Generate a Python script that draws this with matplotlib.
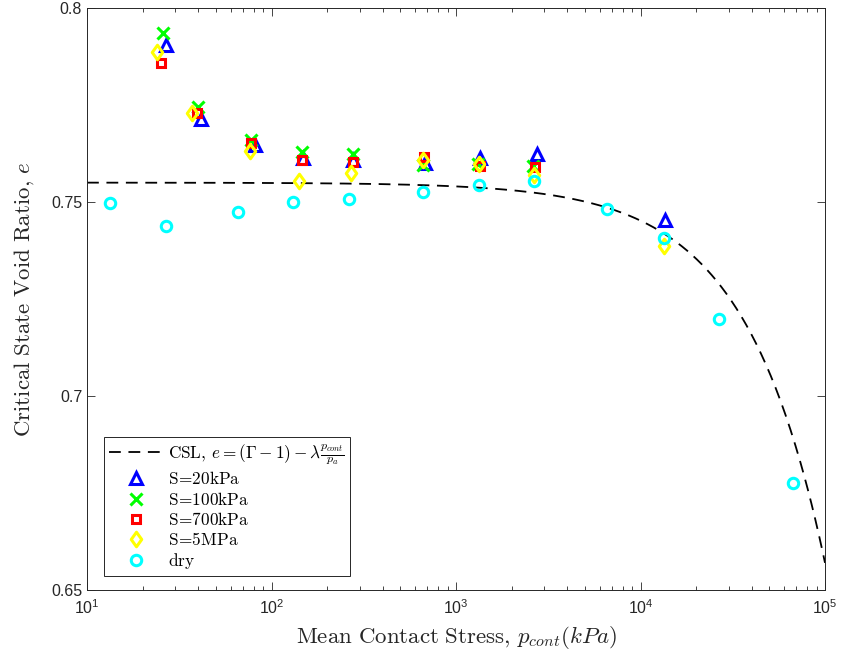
import numpy as np
import matplotlib
matplotlib.use("Agg")
import matplotlib.pyplot as plt
from matplotlib.font_manager import FontProperties
from matplotlib.path import Path
from matplotlib.ticker import LogLocator, FixedLocator, NullFormatter

plt.rcParams["font.family"] = ["Liberation Sans", "DejaVu Sans"]
plt.rcParams["mathtext.fontset"] = "custom"
plt.rcParams["mathtext.rm"] = "Liberation Sans"
plt.rcParams["mathtext.it"] = "Liberation Sans:italic"
plt.rcParams["lines.scale_dashes"] = False

# Critical state line parameters
gamma_csl = 1.755
lambda_csl = 9.8e-5
p_atm = 100.0

# Suction S = 20 kPa
p_s20 = [26.8, 41.3, 81.4, 148.7, 277.6, 679, 1349, 2737, 13575]
e_s20 = [0.7905, 0.7713, 0.7647, 0.7613, 0.7608, 0.7601, 0.7613, 0.7624, 0.7454]

# Suction S = 100 kPa
p_s100 = [25.9, 40.1, 77.1, 145.8, 275.5, 665, 1316, 2604]
e_s100 = [0.7936, 0.7744, 0.7660, 0.7630, 0.7624, 0.7595, 0.7598, 0.7593]

# Suction S = 700 kPa
p_s700 = [25.1, 39.3, 77.1, 145.8, 275.5, 671, 1349, 2681]
e_s700 = [0.7859, 0.7730, 0.7651, 0.7607, 0.7604, 0.7617, 0.7593, 0.7591]

# Suction S = 5 MPa
p_s5m = [24.0, 36.9, 76.5, 141.5, 269.8, 660, 1333, 2648, 13460]
e_s5m = [0.7887, 0.7729, 0.7631, 0.7555, 0.7574, 0.7607, 0.7598, 0.7570, 0.7387]

# Dry specimens
p_dry = [13.3, 26.8, 65.6, 131, 263, 662, 1334, 2650, 6607, 13400, 26650, 67300]
e_dry = [0.7498, 0.7438, 0.7475, 0.7501, 0.7508, 0.7525, 0.7544, 0.7555,
         0.7482, 0.7407, 0.7198, 0.6775]

x_ticks = [1e1, 1e2, 1e3, 1e4, 1e5]
y_ticks = [0.65, 0.70, 0.75, 0.80]
y_tick_labels = ["0.65", "0.7", "0.75", "0.8"]

# Diamond marker slightly taller than wide
diamond = Path([(0, 1), (0.72, 0), (0, -1), (-0.72, 0), (0, 1)],
               [Path.MOVETO, Path.LINETO, Path.LINETO, Path.LINETO, Path.CLOSEPOLY])

fig = plt.figure(figsize=(8.42, 6.61), dpi=100)
ax = fig.add_axes([87 / 842, 1 - 590 / 661, (825 - 87) / 842, (590 - 8) / 661])

p_line = np.logspace(1, 5, 600)
e_line = (gamma_csl - 1) - lambda_csl * p_line / p_atm
ax.plot(p_line, e_line, color="black", lw=1.3, dashes=(8.5, 5.5),
        label=r"$\mathrm{CSL},\,e=(\Gamma-1)-\lambda\frac{p_{cont}}{p_a}$", zorder=2)

common = dict(linestyle="none", markerfacecolor="none", markeredgewidth=2.2, zorder=3)
ax.plot(p_s20, e_s20, marker="^", color=(0, 0, 1), markersize=8.5,
        label=r"$\mathrm{S\!=\!20kPa}$", **common)
ax.plot(p_s100, e_s100, marker="x", color=(0, 1, 0), markersize=8,
        label=r"$\mathrm{S\!=\!100kPa}$", **common)
ax.plot(p_s700, e_s700, marker="s", color=(1, 0, 0), markersize=6.3,
        label=r"$\mathrm{S\!=\!700kPa}$", **common)
ax.plot(p_s5m, e_s5m, marker=diamond, color=(1, 1, 0), markersize=10.5,
        label=r"$\mathrm{S\!=\!5MPa}$", **common)
ax.plot(p_dry, e_dry, marker="o", color=(0, 1, 1), markersize=7.5,
        label=r"$\mathrm{dry}$", **common)

ax.set_xscale("log")
ax.set_xlim(1e1, 1e5)
ax.set_ylim(0.65, 0.80)
ax.xaxis.set_major_locator(FixedLocator(x_ticks))
ax.xaxis.set_minor_locator(LogLocator(base=10, subs=np.arange(2, 10), numticks=20))
ax.xaxis.set_minor_formatter(NullFormatter())
ax.set_yticks(y_ticks)
ax.set_yticklabels(y_tick_labels)

tick_color = (0.15, 0.15, 0.15)
ax.tick_params(which="both", direction="in", top=True, right=True,
               colors=tick_color, labelcolor=tick_color, labelsize=11.5, width=0.6)
ax.tick_params(which="major", length=6)
ax.tick_params(which="minor", length=3)
ax.tick_params(axis="x", pad=6)
for sp in ax.spines.values():
    sp.set_color(tick_color)
    sp.set_linewidth(0.7)

ax.set_xlabel(r"$\mathrm{Mean\ Contact\ Stress,}\,p_{cont}(kPa)$",
              fontsize=16.5, math_fontfamily="cm", color=tick_color, labelpad=5)
ax.set_ylabel(r"$\mathrm{Critical\ State\ Void\ Ratio,}\,e$",
              fontsize=16.5, math_fontfamily="cm", color=tick_color, labelpad=11)

leg_font = FontProperties(size=12.4, math_fontfamily="cm")
leg = ax.legend(loc="lower left", bbox_to_anchor=(17 / 738, 14 / 582), prop=leg_font,
                frameon=True, fancybox=False, framealpha=1, edgecolor=tick_color,
                borderpad=0.3, labelspacing=0.18, handlelength=3.1, handletextpad=0.3,
                borderaxespad=0)
leg.get_frame().set_linewidth(0.7)

fig.savefig("out.png", dpi=100, facecolor="white")
